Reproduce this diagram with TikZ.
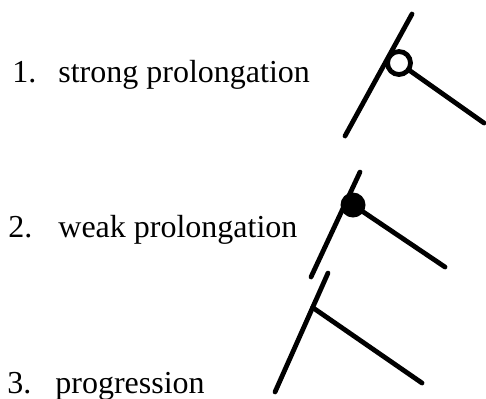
\documentclass[tikz,border=0pt]{standalone}
\usepackage{fontspec}
\setmainfont{Liberation Serif}
\usepackage{tikz}
\usetikzlibrary{
  positioning,
  calc
}

\tikzset{
  numtext/.style={anchor=base west, inner sep=0pt, font=\fontsize{16}{19}\selectfont},
  labtext/.style={anchor=base west, inner sep=0pt, font=\fontsize{16}{19}\selectfont},
  stroke/.style={line width=2.4pt, line cap=round},
  opendot/.style={circle, draw, line width=2.4pt, minimum size=11.5pt, inner sep=0pt},
  fulldot/.style={circle, fill, minimum size=12.5pt, inner sep=0pt}
}

\begin{document}
\begin{tikzpicture}[x=0.5pt, y=-0.5pt]
\useasboundingbox (0,0) rectangle (486,398);

% labels
\node[numtext] (num1) at (12,82) {1.};
\node[labtext] (lab1) at (58,82) {strong prolongation};
\node[numtext] (num2) at (8,237) {2.};
\node[labtext] (lab2) at (58,237) {weak prolongation};
\node[numtext] (num3) at (7,393) {3.};
\node[labtext] (lab3) at (55,393) {progression};

% 1. open circle
\coordinate (bot1) at (345,136);
\coordinate (top1) at (412,14);
\node[opendot] (dot1) at (399,63) {};
\coordinate (end1) at (484,123);
\draw[stroke] (bot1) -- (top1);
\draw[stroke] (dot1) -- (end1);

% 2. filled dot
\coordinate (bot2) at (311,277);
\coordinate (top2) at (360,172);
\node[fulldot] (dot2) at (353,205) {};
\coordinate (end2) at (445,267);
\draw[stroke] (bot2) -- (top2);
\draw[stroke] (dot2.center) -- (end2);

% 3. plain branch
\coordinate (bot3) at (275,392);
\coordinate (top3) at (328,273);
\coordinate (joint3) at ($(bot3)!0.71!(top3)$);
\coordinate (end3) at (422,383);
\draw[stroke] (bot3) -- (top3);
\draw[stroke] (joint3) -- (end3);
\end{tikzpicture}
\end{document}
